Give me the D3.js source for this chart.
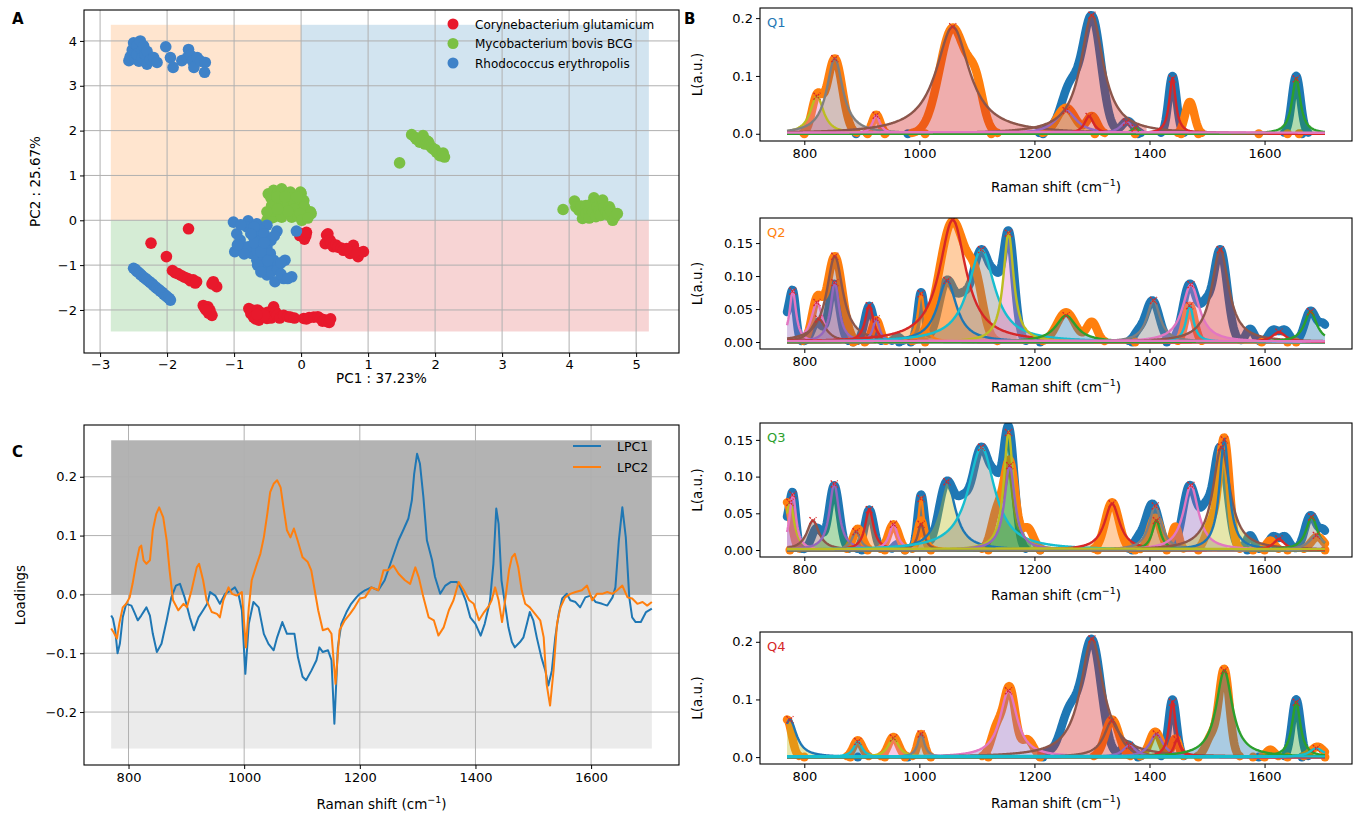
<!DOCTYPE html>
<html><head><meta charset="utf-8">
<script src="https://cdn.jsdelivr.net/npm/d3@7"></script>
<style>body{margin:0;background:#fff}svg{display:block}text{font-family:"DejaVu Sans",sans-serif}</style>
</head><body><script>
// ================= DATA =================
const speciesNames = ["Corynebacterium glutamicum", "Mycobacterium bovis BCG", "Rhodococcus erythropolis"];
const pcaAxisLabels = ["PC1 : 37.23%", "PC2 : 25.67%"];
const pcaXTicks = [-3, -2, -1, 0, 1, 2, 3, 4, 5];
const pcaYTicks = [-2, -1, 0, 1, 2, 3, 4];
// quadrant background bounds [x0, x1, y0, y1, colour]
const quadrants = [[-2.84, 0, 0, 4.36, "orange"], [0, 5.19, 0, 4.36, "blue"], [-2.84, 0, -2.48, 0, "green"], [0, 5.19, -2.48, 0, "red"]];

const corynePoints = [[-1.68,-0.19],[-2.24,-0.51],[-2.01,-0.81],[-1.92,-1.12],[-1.88,-1.17],[-1.84,-1.19],[-1.79,-1.23],[-1.74,-1.27],[-1.69,-1.30],[-1.65,-1.35],[-1.61,-1.33],[-1.58,-1.4],[-1.56,-1.37],
 [-1.31,-1.37],[-1.26,-1.48],[-1.33,-1.42],[-1.46,-1.90],[-1.44,-1.95],[-1.39,-1.93],[-1.36,-2.01],[-1.38,-2.07],[-1.33,-2.12],[-1.42,-2.0],
 [-0.78,-1.97],[-0.75,-2.08],[-0.73,-2.01],[-0.71,-2.16],[-0.68,-2.2],[-0.65,-2.0],[-0.63,-2.23],[-0.61,-2.05],[-0.58,-2.15],[-0.51,-2.19],[-0.5,-2.05],[-0.46,-2.08],[-0.45,-2.18],[-0.41,-1.93],[-0.38,-2.05],[-0.36,-2.12],[-0.32,-2.18],[-0.26,-2.12],[-0.2,-2.15],[-0.16,-2.16],[-0.1,-2.18],[-0.55,-2.12],[-0.66,-2.1],
 [0.04,-2.19],[0.08,-2.2],[0.12,-2.17],[0.19,-2.16],[0.25,-2.15],[0.29,-2.19],[0.32,-2.25],[0.35,-2.22],[0.39,-2.26],[0.42,-2.28],[0.44,-2.2],
 [-0.02,-0.34],[0.0,-0.3],[0.05,-0.42],[0.07,-0.35],[0.08,-0.27],[0.38,-0.33],[0.4,-0.3],[0.36,-0.52],[0.43,-0.44],[0.45,-0.5],[0.48,-0.59],[0.52,-0.55],[0.55,-0.6],[0.6,-0.62],[0.63,-0.67],[0.7,-0.68],[0.73,-0.74],[0.75,-0.65],[0.78,-0.56],[0.82,-0.75],[0.85,-0.81],[0.88,-0.72],[0.93,-0.70],[0.8,-0.7],[0.68,-0.63]];
const mycoPoints = [[-0.49,0.59],[-0.45,0.5],[-0.41,0.67],[-0.35,0.62],[-0.29,0.70],[-0.25,0.45],[-0.2,0.6],[-0.16,0.63],[-0.15,0.5],[-0.05,0.4],[0.0,0.6],[-0.01,0.63],[0.04,0.44],[0.05,0.3],[0.14,0.19],[0.15,0.15],[-0.44,0.33],[-0.31,0.41],[-0.21,0.30],[-0.11,0.41],
 [-0.51,0.00],[-0.45,0.05],[-0.41,0.07],[-0.4,0.2],[-0.3,0.15],[-0.29,0.07],[-0.14,0.07],[-0.1,0.25],[-0.05,0.1],[-0.01,0.15],[0.01,0.0],[0.1,0.05],[-0.36,0.52],[-0.06,0.52],[-0.24,0.52],[-0.51,0.19],[-0.2,0.2],[-0.35,0.25],
 [1.47,1.28],[1.65,1.91],[1.7,1.85],[1.72,1.81],[1.77,1.74],[1.8,1.82],[1.82,1.89],[1.85,1.7],[1.87,1.78],[1.9,1.75],[1.92,1.67],[1.95,1.62],[1.97,1.59],[2.0,1.58],[2.02,1.52],[2.07,1.44],[2.1,1.46],[2.12,1.5],[2.14,1.41],
 [3.91,0.24],[4.08,0.43],[4.1,0.3],[4.15,0.22],[4.18,0.32],[4.20,0.04],[4.25,0.33],[4.25,0.15],[4.30,0.22],[4.3,0.05],[4.32,0.35],[4.35,0.19],[4.37,0.50],[4.4,0.4],[4.4,0.08],[4.42,0.30],[4.45,0.22],[4.47,0.11],[4.50,0.37],[4.5,0.45],[4.52,0.28],[4.55,0.19],[4.58,0.12],[4.60,0.30],[4.62,0.22],[4.65,0.0],[4.68,0.08],[4.72,0.15]];
const rhodoPoints = [[-2.57,3.56],[-2.55,3.65],[-2.52,3.8],[-2.50,3.96],[-2.48,3.6],[-2.45,3.9],[-2.42,3.55],[-2.40,4.0],[-2.45,3.70],[-2.38,3.78],[-2.35,3.89],[-2.37,3.63],[-2.33,3.7],[-2.30,3.77],[-2.30,3.48],[-2.25,3.58],[-2.20,3.63],[-2.15,3.52],[-2.02,3.87],[-1.95,3.63],[-1.91,3.41],
 [-1.78,3.56],[-1.68,3.81],[-1.70,3.63],[-1.65,3.68],[-1.62,3.55],[-1.60,3.41],[-1.55,3.63],[-1.5,3.55],[-1.43,3.52],[-1.44,3.30],
 [-2.50,-1.07],[-2.47,-1.1],[-2.45,-1.14],[-2.42,-1.17],[-2.40,-1.2],[-2.38,-1.23],[-2.35,-1.27],[-2.32,-1.3],[-2.30,-1.33],[-2.27,-1.36],[-2.25,-1.39],[-2.22,-1.42],[-2.20,-1.46],[-2.17,-1.49],[-2.15,-1.52],[-2.12,-1.55],[-2.10,-1.58],[-2.07,-1.61],[-2.05,-1.65],[-2.02,-1.68],[-2.00,-1.71],[-1.97,-1.74],[-1.95,-1.78],
 [-1.01,-0.04],[-0.79,-0.01],[-0.66,-0.08],[-0.51,-0.11],[-0.36,-0.24],[-0.07,-0.24],[-0.96,-0.30],[-0.99,-0.70],[-0.86,-0.59],[-0.91,-0.44],[-0.71,-0.37],[-0.61,-0.44],
 [-0.51,-0.59],[-0.74,-0.74],[-0.66,-0.89],[-0.56,-0.81],[-0.46,-0.74],[-0.41,-1.04],[-0.51,-1.22],[-0.39,-1.37],[-0.26,-1.30],[-0.14,-1.26],[-0.24,-0.89],
 [-0.81,-0.15],[-0.61,-0.22],[-0.79,-0.59],[-0.41,-0.89],[-0.56,-1.04],[-0.66,-0.67],[-0.9,-0.1],[-0.7,-0.15],[-0.55,-0.3],[-0.45,-0.45],[-0.7,-0.5],[-0.6,-0.7],[-0.5,-0.9],[-0.65,-1.0],[-0.45,-1.15],[-0.35,-1.1],[-0.85,-0.75],[-0.95,-0.55],[-0.75,-0.3],[-0.55,-0.5],[-0.4,-0.35],[-0.3,-0.95],[-0.3,-1.2],[-0.2,-1.3],[-0.6,-1.15]];

// Loadings (panel C)
const loadingNames = ["LPC1", "LPC2"];
const lpc1Shift = [770,773,777,781,785,790,796,805,810,816,822,831,837,842,849,857,866,874,882,889,897,906,913,921,929,936,941,950,958,967,977,984,990,996,1002,1008,1016,1025,1034,1042,1051,1057,1066,1074,1083,1087,1093,1101,1107,1116,1125,1130,1136,1145,1151,1156,1162,1168,1177,1185,1194,1200,1209,1220,1232,1243,1255,1267,1275,1284,1290,1294,1299,1304,1310,1316,1325,1330,1339,1348,1357,1368,1374,1383,1391,1400,1409,1416,1425,1431,1436,1440,1445,1451,1457,1463,1468,1477,1483,1489,1494,1500,1506,1514,1521,1526,1532,1538,1544,1550,1558,1564,1573,1581,1590,1599,1608,1619,1628,1637,1642,1648,1654,1660,1666,1671,1677,1686,1695,1700,1705];
const lpc1Values = [-0.036,-0.041,-0.061,-0.10,-0.084,-0.039,-0.016,-0.019,-0.03,-0.044,-0.036,-0.022,-0.036,-0.067,-0.098,-0.084,-0.044,-0.005,0.015,0.018,-0.005,-0.039,-0.061,-0.039,-0.027,-0.016,0.004,-0.002,-0.016,0.001,0.007,0.012,0.001,-0.027,-0.135,-0.05,-0.013,-0.022,-0.067,-0.084,-0.095,-0.073,-0.047,-0.067,-0.067,-0.067,-0.107,-0.14,-0.146,-0.13,-0.112,-0.09,-0.098,-0.095,-0.112,-0.22,-0.09,-0.05,-0.03,-0.016,-0.005,0.001,0.007,0.012,0.007,0.024,0.058,0.092,0.109,0.129,0.16,0.205,0.239,0.222,0.165,0.092,0.058,0.03,0.001,0.015,0.021,0.021,0.012,-0.01,-0.039,-0.05,-0.07,-0.05,-0.012,0.052,0.146,0.12,0.024,-0.016,-0.056,-0.081,-0.09,-0.081,-0.073,-0.05,-0.03,-0.044,-0.073,-0.107,-0.13,-0.155,-0.13,-0.073,-0.033,-0.007,0.001,-0.01,-0.013,-0.022,-0.005,-0.002,-0.013,-0.016,-0.019,-0.005,0.012,0.092,0.148,0.097,-0.005,-0.039,-0.047,-0.047,-0.03,-0.027,-0.024];
const lpc2Shift = [770,774,780,784,790,796,802,807,813,819,822,826,831,837,842,848,853,860,866,871,877,886,895,901,909,918,922,929,935,944,953,958,964,973,979,987,996,1003,1008,1013,1022,1028,1034,1040,1045,1051,1057,1063,1068,1074,1080,1086,1093,1101,1110,1116,1122,1128,1136,1145,1151,1158,1165,1174,1183,1191,1200,1209,1220,1232,1241,1249,1258,1267,1278,1287,1296,1302,1310,1319,1328,1336,1345,1354,1362,1371,1380,1389,1397,1406,1415,1423,1428,1434,1440,1446,1452,1458,1463,1468,1474,1480,1486,1494,1503,1512,1518,1523,1529,1535,1541,1547,1555,1564,1573,1584,1593,1602,1610,1619,1628,1637,1645,1654,1663,1671,1680,1689,1697,1705];
const lpc2Values = [-0.058,-0.064,-0.075,-0.05,-0.022,-0.016,-0.005,0.018,0.052,0.08,0.083,0.058,0.052,0.058,0.109,0.137,0.148,0.131,0.092,0.041,-0.01,-0.027,-0.016,-0.022,0.007,0.046,0.052,0.024,-0.01,-0.03,-0.033,-0.039,-0.01,0.012,0.001,-0.002,0.004,-0.09,-0.022,0.024,0.052,0.069,0.097,0.137,0.174,0.188,0.194,0.182,0.148,0.109,0.097,0.112,0.09,0.063,0.055,0.041,0.007,-0.027,-0.061,-0.058,-0.067,-0.152,-0.061,-0.044,-0.033,-0.022,-0.007,-0.005,0.012,0.007,0.041,0.041,0.049,0.035,0.024,0.018,0.046,0.029,-0.005,-0.039,-0.044,-0.07,-0.056,-0.027,-0.01,0.021,0.007,-0.01,-0.016,-0.044,-0.03,-0.02,-0.01,0.012,-0.01,-0.047,-0.005,0.041,0.063,0.069,0.046,0.007,-0.016,-0.022,-0.033,-0.044,-0.073,-0.152,-0.189,-0.13,-0.05,-0.022,-0.005,0.001,0.004,0.007,0.015,-0.01,0.001,0.001,0.004,0.001,0.007,0.015,-0.005,-0.007,-0.016,-0.013,-0.019,-0.013];
const loadingYTicks = [-0.2, -0.1, 0.0, 0.1, 0.2];
const ramanTicks = [800, 1000, 1200, 1400, 1600];

// Panel B: quadrant spectra as peak lists [centre cm-1, height, width]
const lpc1PosPeaks = [[1222,0.006,8],[1262,0.08,16],[1300,0.2,16],[1362,0.022,10],[1440,0.1,7],[1655,0.1,7.5]];
const lpc2PosPeaks = [[822,0.062,9],[853,0.13,13],[925,0.033,7],[1058,0.183,23],[1098,0.07,13],[1255,0.045,16],[1300,0.03,9],[1470,0.055,8]];
const lpc1NegPeaks = [[772,0.042,7],[781,0.058,5],[822,0.03,9],[852,0.088,9],[913,0.055,8],[962,0.008,6],[1003,0.075,6],[1048,0.093,14],[1075,0.04,10],[1108,0.14,17],[1133,0.045,8],[1155,0.165,10],[1380,0.012,8],[1405,0.063,12],[1470,0.088,12],[1497,0.045,9],[1523,0.14,12],[1575,0.02,7],[1615,0.018,8],[1635,0.018,8],[1680,0.047,10],[1703,0.025,8]];
const lpc2NegPeaks = [[770,0.065,8],[893,0.029,8],[955,0.035,9],[1003,0.04,6],[1135,0.05,10],[1157,0.118,10],[1188,0.03,10],[1335,0.065,12],[1410,0.044,10],[1445,0.032,6],[1508,0.035,10],[1530,0.15,9],[1610,0.013,7],[1692,0.018,11]];

// fitted Lorentzian components per quadrant: [centre, height, half-width, line colour, fill colour]
const q1Components = [[822,0.065,14,"olive","pink"],[853,0.13,17,"gray","brown"],[925,0.032,8,"pink","pink"],[1058,0.185,35,"brown","red"],[1255,0.04,22,"purple","olive"],[1295,0.03,10,"red",null],[1300,0.205,24,"brown","red"],[1360,0.02,14,"purple",null],[1375,0.01,8,"green",null],[1440,0.095,7,"red","red"],[1655,0.095,9,"green","green"],[1200,0.003,600,"pink",null]];
const q2Components = [[780,0.077,7,"pink","purple"],[822,0.06,12,"pink","purple"],[825,0.035,15,"brown",null],[853,0.13,17,"brown","brown"],[853,0.09,9,"purple","purple"],[913,0.055,9,"red","red"],[925,0.035,7,"purple",null],[1003,0.073,7,"orange","orange"],[1048,0.093,20,"blue","orange"],[1058,0.185,28,"red","orange"],[1108,0.14,28,"cyan","gray"],[1155,0.165,11,"olive","pink"],[1255,0.04,22,"green","blue"],[1407,0.063,14,"gray","gray"],[1470,0.055,8,"cyan",null],[1472,0.087,18,"pink","pink"],[1523,0.14,18,"brown","red"],[1625,0.015,14,"red",null],[1680,0.046,13,"green","blue"],[1200,0.002,600,"pink",null]];
const q3Components = [[775,0.065,9,"olive","pink"],[780,0.075,7,"pink","purple"],[815,0.04,13,"brown","brown"],[852,0.09,10,"purple","green"],[890,0.025,9,"gray","orange"],[913,0.055,9,"red","orange"],[955,0.035,9,"pink","pink"],[1003,0.07,6,"orange","orange"],[1003,0.035,7,"brown",null],[1048,0.093,18,"blue","olive"],[1108,0.14,28,"cyan","gray"],[1155,0.16,10,"olive","green"],[1157,0.115,11,"purple","green"],[1335,0.063,16,"red","orange"],[1410,0.06,13,"gray","gray"],[1412,0.04,9,"green","orange"],[1472,0.088,16,"pink","purple"],[1525,0.14,18,"brown","olive"],[1530,0.15,10,"blue",null],[1625,0.015,12,"red",null],[1682,0.045,12,"green","gray"],[1690,0.02,15,"gray",null],[1200,0.002,600,"olive",null]];
const q4Components = [[775,0.065,14,"blue","olive"],[893,0.027,9,"cyan","blue"],[955,0.033,11,"olive","pink"],[1003,0.04,7,"gray","gray"],[1155,0.115,18,"pink","purple"],[1300,0.205,24,"brown","red"],[1335,0.063,17,"brown",null],[1365,0.02,14,"purple",null],[1412,0.04,14,"purple","green"],[1440,0.095,7,"red","red"],[1448,0.03,7,"red",null],[1530,0.15,17,"green","blue"],[1655,0.095,9,"green","green"],[1690,0.015,15,"cyan",null],[1200,0.002,600,"cyan",null]];
// isolated baseline points of the spectra
const q1BlueDots = [890,980,1215,1380,1665];
const q1OrangeDots = [800,910,940,1010,1125,1305,1375,1455,1485,1590,1640,1660];
const q2BlueDots = [885,965,985,1210,1370,1430];
const q2OrangeDots = [885,905,1010,1375,1595,1640,1655];
const q3BlueDots = [900,975,1210,1370,1570];
const q3OrangeDots = [775,910,940,975,1020,1120,1210,1310,1375,1430,1485,1580,1600,1640,1705];
const q4BlueDots = [893,980,1215,1380,1590,1665];
const q4OrangeDots = [800,880,940,975,1020,1120,1210,1485,1580,1600,1640,1705];
const quadrantNames = ["Q1", "Q2", "Q3", "Q4"];

// ================= DRAWING =================
const tab = {blue:"#1f77b4",orange:"#ff7f0e",green:"#2ca02c",red:"#d62728",purple:"#9467bd",brown:"#8c564b",pink:"#e377c2",gray:"#7f7f7f",olive:"#bcbd22",cyan:"#17becf"};
const speciesColors = ["#e8192c", "#7bc043", "#3f82c8"];
const W = 1361, H = 816;
const svg = d3.select("body").append("svg").attr("width", W).attr("height", H);
const defs = svg.append("defs");
let clipId = 0;
function clip(x0, y0, x1, y1) {
  const id = "clip" + (clipId++);
  defs.append("clipPath").attr("id", id).append("rect").attr("x", x0).attr("y", y0).attr("width", x1 - x0).attr("height", y1 - y0);
  return "url(#" + id + ")";
}
function styleAxis(g) {
  g.selectAll("text").attr("font-size", 13).attr("fill", "#000").attr("font-family", "DejaVu Sans, sans-serif");
  g.selectAll("line").attr("stroke", "#000").attr("stroke-width", 1);
  g.select(".domain").remove();
}
function frame(x0, y0, x1, y1) {
  svg.append("rect").attr("x", x0).attr("y", y0).attr("width", x1 - x0).attr("height", y1 - y0)
    .attr("fill", "none").attr("stroke", "#000").attr("stroke-width", 1.1);
}
function ramanLabel(x, y) {
  const t = svg.append("text").attr("x", x).attr("y", y).attr("text-anchor", "middle").attr("font-size", 13.5);
  t.append("tspan").text("Raman shift (cm");
  t.append("tspan").text("\u22121").attr("font-size", 9.5).attr("dy", -6);
  t.append("tspan").text(")").attr("dy", 6);
}
function letter(s, x, y) {
  svg.append("text").attr("x", x).attr("y", y).attr("font-size", 15).attr("font-weight", "bold").text(s);
}

// ---------- Panel A ----------
{
  const L = 84, R = 679, T = 10, B = 353;
  const x = d3.scaleLinear().domain([-3.24, 5.64]).range([L, R]);
  const y = d3.scaleLinear().domain([-2.96, 4.69]).range([B, T]);
  const qFill = {orange: "#ffe5cf", blue: "#d2e4f0", green: "#d5ecd5", red: "#f7d4d4"};
  svg.append("g").selectAll("rect").data(quadrants).join("rect")
    .attr("x", d => x(d[0])).attr("width", d => x(d[1]) - x(d[0]))
    .attr("y", d => y(d[3])).attr("height", d => y(d[2]) - y(d[3]))
    .attr("fill", d => qFill[d[4]]);
  const grid = svg.append("g").attr("stroke", "#b0b0b0").attr("stroke-width", 1);
  pcaXTicks.forEach(v => grid.append("line").attr("x1", x(v)).attr("x2", x(v)).attr("y1", T).attr("y2", B));
  pcaYTicks.forEach(v => grid.append("line").attr("y1", y(v)).attr("y2", y(v)).attr("x1", L).attr("x2", R));
  const gp = svg.append("g").attr("clip-path", clip(L, T, R, B));
  [corynePoints, mycoPoints, rhodoPoints].forEach((pts, i) => {
    gp.append("g").selectAll("circle").data(pts).join("circle")
      .attr("cx", d => x(d[0])).attr("cy", d => y(d[1])).attr("r", 5.8).attr("fill", speciesColors[i]);
  });
  frame(L, T, R, B);
  const fmt = d3.format("d");
  svg.append("g").attr("transform", `translate(0,${B})`).call(d3.axisBottom(x).tickValues(pcaXTicks).tickFormat(fmt).tickSize(4).tickPadding(3)).call(styleAxis);
  svg.append("g").attr("transform", `translate(${L},0)`).call(d3.axisLeft(y).tickValues(pcaYTicks).tickFormat(fmt).tickSize(4).tickPadding(3)).call(styleAxis);
  svg.append("text").attr("x", (L + R) / 2).attr("y", 383).attr("text-anchor", "middle").attr("font-size", 13.5).text(pcaAxisLabels[0]);
  svg.append("text").attr("transform", `translate(40,${(T + B) / 2}) rotate(-90)`).attr("text-anchor", "middle").attr("font-size", 13.5).text(pcaAxisLabels[1]);
  const lg = svg.append("g");
  speciesNames.forEach((s, i) => {
    lg.append("circle").attr("cx", 453).attr("cy", 24 + i * 19.5).attr("r", 5.5).attr("fill", speciesColors[i]);
    lg.append("text").attr("x", 475).attr("y", 28.5 + i * 19.5).attr("font-size", 12).text(s);
  });
  letter("A", 12, 24);
}

// ---------- Panel C ----------
{
  const L = 84, R = 679, T = 425, B = 765;
  const x = d3.scaleLinear().domain([723, 1752]).range([L, R]);
  const y = d3.scaleLinear().domain([-0.29, 0.288]).range([B, T]);
  svg.append("rect").attr("x", x(770)).attr("width", x(1705) - x(770)).attr("y", y(0.262)).attr("height", y(0) - y(0.262)).attr("fill", "#b3b3b3");
  svg.append("rect").attr("x", x(770)).attr("width", x(1705) - x(770)).attr("y", y(0)).attr("height", y(-0.262) - y(0)).attr("fill", "#ebebeb");
  const grid = svg.append("g").attr("stroke", "#b0b0b0").attr("stroke-width", 1);
  ramanTicks.forEach(v => grid.append("line").attr("x1", x(v)).attr("x2", x(v)).attr("y1", T).attr("y2", B));
  loadingYTicks.forEach(v => grid.append("line").attr("y1", y(v)).attr("y2", y(v)).attr("x1", L).attr("x2", R));
  const line = d3.line().x(d => x(d[0])).y(d => y(d[1]));
  const g = svg.append("g").attr("clip-path", clip(L, T, R, B)).attr("fill", "none").attr("stroke-width", 2).attr("stroke-linejoin", "round");
  g.append("path").attr("d", line(d3.zip(lpc1Shift, lpc1Values))).attr("stroke", tab.blue);
  g.append("path").attr("d", line(d3.zip(lpc2Shift, lpc2Values))).attr("stroke", tab.orange);
  frame(L, T, R, B);
  svg.append("g").attr("transform", `translate(0,${B})`).call(d3.axisBottom(x).tickValues(ramanTicks).tickFormat(d3.format("d")).tickSize(4).tickPadding(4)).call(styleAxis);
  svg.append("g").attr("transform", `translate(${L},0)`).call(d3.axisLeft(y).tickValues(loadingYTicks).tickFormat(d3.format(".1f")).tickSize(4).tickPadding(3)).call(styleAxis);
  ramanLabel((L + R) / 2, 809);
  svg.append("text").attr("transform", `translate(25,${(T + B) / 2}) rotate(-90)`).attr("text-anchor", "middle").attr("font-size", 13.5).text("Loadings");
  [tab.blue, tab.orange].forEach((c, i) => {
    svg.append("line").attr("x1", 573).attr("x2", 601).attr("y1", 446 + i * 21).attr("y2", 446 + i * 21).attr("stroke", c).attr("stroke-width", 2);
    svg.append("text").attr("x", 617).attr("y", 451 + i * 21).attr("font-size", 12.5).text(loadingNames[i]);
  });
  letter("C", 12, 457);
}

// ---------- Panel B ----------
const shiftGrid = d3.range(770, 1705.5, 1);
const gauss = (peaks, s) => d3.sum(peaks, p => p[1] * Math.exp(-0.5 * ((s - p[0]) / p[2]) ** 2));
const lor = (c, s) => c[1] / (1 + ((s - c[0]) / c[2]) ** 2);
const quads = [
  {T: 8, B: 141, lab: 192, dom: [-0.0125, 0.2175], ticks: [0, 0.1, 0.2], fmt: ".1f", blue: lpc1PosPeaks, orange: lpc2PosPeaks, bDots: q1BlueDots, oDots: q1OrangeDots, comps: q1Components, col: tab.blue},
  {T: 218, B: 349, lab: 392, dom: [-0.0106, 0.188], ticks: [0, 0.05, 0.10, 0.15], fmt: ".2f", blue: lpc1NegPeaks, orange: lpc2PosPeaks, bDots: q2BlueDots, oDots: q2OrangeDots, comps: q2Components, col: tab.orange},
  {T: 423, B: 557, lab: 600, dom: [-0.0095, 0.173], ticks: [0, 0.05, 0.10, 0.15], fmt: ".2f", blue: lpc1NegPeaks, orange: lpc2NegPeaks, bDots: q3BlueDots, oDots: q3OrangeDots, comps: q3Components, col: tab.green},
  {T: 632, B: 764, lab: 808, dom: [-0.012, 0.217], ticks: [0, 0.1, 0.2], fmt: ".1f", blue: lpc1PosPeaks, orange: lpc2NegPeaks, bDots: q4BlueDots, oDots: q4OrangeDots, comps: q4Components, col: tab.red}
];
quads.forEach((q, qi) => {
  const L = 760, R = 1352;
  const x = d3.scaleLinear().domain([723, 1752]).range([L, R]);
  const y = d3.scaleLinear().domain(q.dom).range([q.B, q.T]);
  const g = svg.append("g").attr("clip-path", clip(L, q.T, R, q.B));
  const thick = d3.line().defined(d => d[1] > 0.0015).x(d => x(d[0])).y(d => y(d[1]));
  [[q.blue, tab.blue, q.bDots], [q.orange, tab.orange, q.oDots]].forEach(([peaks, c, dots]) => {
    const data = shiftGrid.map(s => [s, gauss(peaks, s)]);
    g.append("path").attr("d", thick(data)).attr("fill", "none").attr("stroke", c).attr("stroke-width", 8.5)
      .attr("stroke-linecap", "round").attr("stroke-linejoin", "round");
    g.append("g").selectAll("circle").data(dots).join("circle").attr("cx", d => x(d)).attr("cy", y(0)).attr("r", 4.5).attr("fill", c);
  });
  q.comps.filter(c => c[4]).forEach(c => {
    const xs = shiftGrid.filter(s => Math.abs(s - c[0]) < 4 * c[2]);
    g.append("path").attr("d", d3.area().x(s => x(s)).y0(y(0)).y1(s => y(lor(c, s)))(xs))
      .attr("fill", tab[c[4]]).attr("fill-opacity", 0.38);
  });
  q.comps.forEach(c => {
    g.append("path").attr("d", d3.line().x(s => x(s)).y(s => y(lor(c, s)))(shiftGrid))
      .attr("fill", "none").attr("stroke", tab[c[3]]).attr("stroke-width", 2.4);
  });
  q.comps.filter(c => c[2] < 100).forEach(c => {
    const px = x(c[0]), py = y(c[1]);
    g.append("path").attr("d", `M${px - 3.5},${py - 3.5}L${px + 3.5},${py + 3.5}M${px - 3.5},${py + 3.5}L${px + 3.5},${py - 3.5}`)
      .attr("stroke", tab.red).attr("stroke-width", 1.3).attr("stroke-dasharray", "2,1");
  });
  frame(L, q.T, R, q.B);
  svg.append("g").attr("transform", `translate(0,${q.B})`).call(d3.axisBottom(x).tickValues(ramanTicks).tickFormat(d3.format("d")).tickSize(4).tickPadding(4)).call(styleAxis);
  svg.append("g").attr("transform", `translate(${L},0)`).call(d3.axisLeft(y).tickValues(q.ticks).tickFormat(d3.format(q.fmt)).tickSize(4).tickPadding(3)).call(styleAxis);
  ramanLabel((L + R) / 2, q.lab);
  svg.append("text").attr("transform", `translate(702,${(q.T + q.B) / 2}) rotate(-90)`).attr("text-anchor", "middle").attr("font-size", 13.5).text("L(a.u.)");
  svg.append("text").attr("x", 767).attr("y", q.T + 19).attr("font-size", 13).attr("fill", q.col).text(quadrantNames[qi]);
});
letter("B", 684, 24);
</script></body></html>
